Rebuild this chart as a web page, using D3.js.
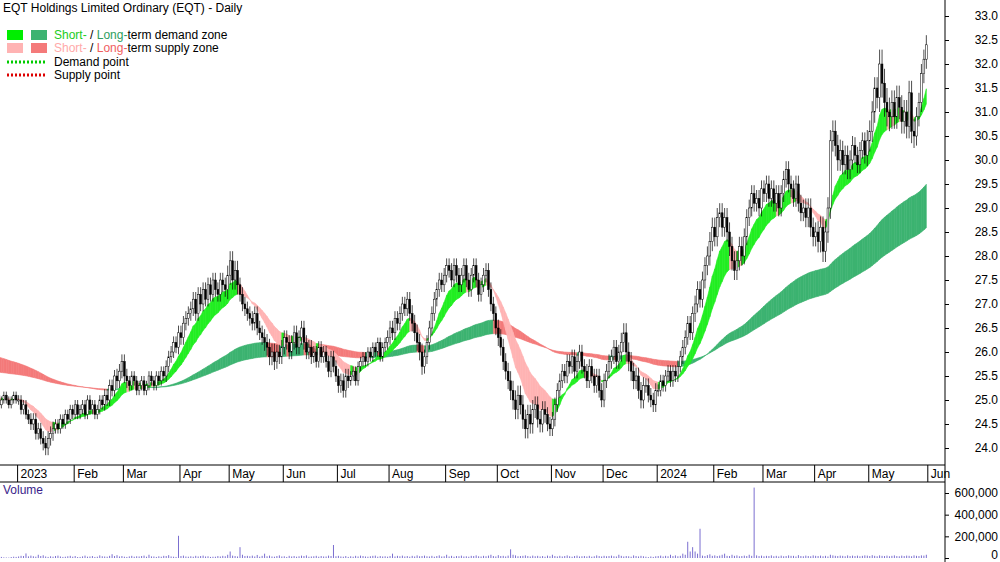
<!DOCTYPE html><html><head><meta charset="utf-8"><script src="https://d3js.org/d3.v7.min.js"></script>
<style>body{margin:0;background:#fff}svg{font-family:Arial,"Liberation Sans",sans-serif}</style></head><body><svg id="c" width="1000" height="562"></svg>
<script>
// Daily closes, one row per week (Mon-Fri), starting week of 19 Dec 2022
const closeRows=[
"25.0 25.1 24.9 25.0 25.1","25.0 24.9 25.0 25.1 25.0","25.0 24.8 24.9 24.7 24.6","24.5 24.6 24.3 24.4 24.2","24.1 24.0 24.2 24.3 24.4",
"24.5 24.4 24.6 24.5 24.7","24.6 24.8 24.7 24.9 24.7","24.8 24.9 24.7 25.0 24.8","24.9 24.7 24.8 25.0 24.9","25.1 25.0 25.3 25.2 25.5",
"25.4 25.6 25.8 25.5 25.4","25.3 25.5 25.4 25.2 25.3","25.4 25.2 25.3 25.5 25.4","25.3 25.5 25.4 25.6 25.5","25.7 25.9 26.0 26.2 26.1",
"26.4 26.3 26.6 26.7 26.8","26.9 27.1 26.8 27.2 27.0","27.3 27.1 27.4 27.2 27.5","27.3 27.2 27.5 27.4 27.3","27.6 27.9 27.5 27.7 27.4",
"27.2 27.0 26.9 26.8 26.7","26.6 26.8 26.5 26.4 26.3","26.2 26.1 25.9 26.0 25.8","26.0 25.9 26.1 26.3 26.2","26.0 26.2 26.4 26.1 26.3",
"26.5 26.2 26.0 26.1 25.9","26.0 25.8 26.1 25.9 26.0","25.8 25.6 25.9 25.7 25.5","25.3 25.4 25.2 25.5 25.4","25.5 25.6 25.4 25.7 25.8",
"25.9 25.8 26.0 25.9 26.1","26.0 26.2 25.9 26.1 26.2","26.3 26.5 26.4 26.7 26.6","26.8 27.0 26.9 27.1 26.8","26.6 26.4 26.2 26.0 25.7",
"25.9 26.2 26.5 26.8 27.1","27.3 27.5 27.4 27.6 27.8","27.7 27.5 27.8 27.6 27.4","27.6 27.8 27.5 27.3 27.6","27.8 27.5 27.2 27.4 27.6",
"27.7 27.3 27.0 26.8 26.5","26.3 26.1 25.8 25.6 25.4","25.2 25.0 24.8 25.1 24.9","24.6 24.4 24.7 24.5 24.8","24.9 24.6 24.5 24.8 24.7",
"24.5 24.4 24.6 24.9 25.2","25.4 25.6 25.5 25.8 25.7","25.9 25.6 25.8 26.0 25.7","25.6 25.4 25.7 25.5 25.3","25.5 25.2 25.0 25.4 25.6",
"25.8 25.9 26.1 25.8 26.0","26.2 26.4 26.0 25.8 25.6","25.4 25.5 25.2 25.0 25.3","25.3 25.1 25.0 24.9 25.2","25.2 25.4 25.3 25.5 25.6",
"25.4 25.6 25.5 25.7 25.9","26.1 26.3 26.6 26.4 26.8","27.0 27.3 27.1 27.5 27.8","28.0 28.3 28.6 28.4 28.8","28.9 28.6 28.8 28.5 28.2",
"27.9 27.7 27.9 28.2 28.0","28.4 28.8 29.0 29.3 29.1","29.2 29.0 29.4 29.3 29.5","29.2 29.4 29.1 29.3 29.0","29.3 29.6 29.8 29.5 29.4",
"29.2 29.5 29.1 28.9 29.0","28.8 29.0 28.6 28.4 28.5","28.3 28.6 28.1 28.5 29.0","30.4 30.6 30.3 30.0 30.2","29.9 30.1 29.8 30.0 30.3",
"30.1 29.9 30.2 30.4 30.1","30.4 30.6 31.0 31.5 31.3","32.0 31.6 31.2 31.0 30.9","31.2 30.9 31.3 31.1 30.8","31.0 30.7 31.4 30.6 30.5",
"30.9 31.2 31.8 32.1 32.4"];
// typical wick length per week
const wickRows=[0.15,0.15,0.2,0.25,0.3,0.2,0.2,0.2,0.2,0.25,0.3,0.2,0.2,0.2,0.25,0.3,0.3,0.3,0.3,0.4,0.3,0.3,0.35,0.3,0.3,0.3,0.25,0.25,0.3,0.2,0.2,0.2,0.3,0.3,0.35,0.3,0.3,0.3,0.3,0.3,0.3,0.35,0.4,0.4,0.35,0.3,0.3,0.3,0.3,0.3,0.3,0.4,0.35,0.3,0.25,0.25,0.3,0.35,0.4,0.4,0.4,0.35,0.35,0.35,0.35,0.35,0.4,0.45,0.45,0.4,0.35,0.45,0.6,0.5,0.5,0.4];
// volume in thousands, one row per week
const volRows=[
"12 8 15 10 6","5 4 9 12 10","14 20 18 42 15","22 16 12 30 18","25 14 10 16 12","18 22 14 10 12","16 20 12 18 9","10 15 22 12 14","18 10 12 24 16","14 12 20 35 18",
"26 14 18 12 10","15 20 12 16 14","18 22 12 30 15","14 10 16 12 20","18 26 14 12 10","205 18 22 14 12","16 12 20 14 18","22 14 16 10 12","12 18 14 20 16","30 60 22 18 14",
"100 30 18 20 16","22 14 28 12 20","40 16 22 14 12","18 24 14 16 10","20 14 18 12 16","22 18 24 12 14","16 20 12 18 14","14 22 18 120 16","20 14 12 18 10","16 12 20 14 22",
"18 14 12 16 20","22 12 18 14 16","12 18 40 14 20","16 22 14 18 12","20 14 24 16 18","22 16 14 20 12","18 24 14 16 30","14 20 12 18 16","22 14 16 12 20","18 24 16 14 20",
"16 22 30 18 14","26 18 20 14 22","80 30 24 16 18","20 24 18 14 22","16 20 14 18 12","22 16 30 18 14","20 14 18 24 16","12 18 22 14 16","18 14 20 12 16","24 18 14 20 16",
"18 22 16 14 30","20 14 18 16 12","24 18 14 20 16","12 8 14 10 16","18 22 14 20 16","30 18 24 16 20","40 30 150 60 100","60 40 270 22 18","26 34 20 24 18","22 30 40 20 18",
"30 20 24 16 18","22 18 30 20 650","24 18 22 16 20","18 24 16 20 14","22 16 18 24 20","20 14 26 18 16","22 18 16 24 20","18 22 16 20 14","30 24 20 18 22","20 16 24 18 22",
"18 22 16 20 24","22 18 26 20 16","24 20 18 22 16","20 24 18 16 22","18 22 20 16 24","20 18 24 22 30"];
const priceTicks=[24.0,24.5,25.0,25.5,26.0,26.5,27.0,27.5,28.0,28.5,29.0,29.5,30.0,30.5,31.0,31.5,32.0,32.5,33.0];
const volTicks=[0,200000,400000,600000];
const monthLabels=["2023","Feb","Mar","Apr","May","Jun","Jul","Aug","Sep","Oct","Nov","Dec","2024","Feb","Mar","Apr","May","Jun"];
const monthStartIdx=[10,33,53,76,96,118,140,161,184,205,227,248,270,293,313,334,356,380];
const emaSeed=[25.0,25.05,25.95,25.6]; // short fast, short slow, long fast, long slow starting levels

const close=closeRows.join(" ").split(" ").map(Number);
const vol=volRows.join(" ").split(" ").map(v=>+v*1000);
const N=close.length;
const bars=close.map((c,i)=>{const o=i?close[i-1]:c-0.05;const w=wickRows[Math.floor(i/5)];
 return{i,o,c,h:Math.max(o,c)+w*0.5,l:Math.min(o,c)-w*0.5,v:vol[i]};});
function ema(n,seed){let e=seed;return close.map(c=>(e=e+(c-e)*2/(n+1)));}
const s1=ema(10,emaSeed[0]),s2=ema(21,emaSeed[1]),l1=ema(100,emaSeed[2]),l2=ema(170,emaSeed[3]);

const svg=d3.select("#c");
const x=d3.scaleLinear().domain([0,N]).range([-6,-6+2.46*N]);
const y=d3.scaleLinear().domain([24,33]).range([448,16]);
const yv=d3.scaleLinear().domain([0,600000]).range([558,493]);

function band(a,b,up,down){
 for(let i=0;i<N-1;i++){const rising=(a[i+1]+b[i+1])>(a[i]+b[i]);
  const p=[[x(i),y(a[i])],[x(i+1),y(a[i+1])],[x(i+1),y(b[i+1])],[x(i),y(b[i])]];
  svg.append("path").attr("d",d3.line()(p)+"Z").attr("fill",rising?up:down).attr("stroke",rising?up:down).attr("stroke-width",0.6);}
}
band(l1,l2,"#3cb371","#f47a7a");
band(s1,s2,"#22ee22","#ffb3b3");

// candles
const cw=1.8;
const g=svg.append("g");
bars.forEach(b=>{const cx=x(b.i);
 g.append("line").attr("x1",cx).attr("x2",cx).attr("y1",y(b.h)).attr("y2",y(b.l)).attr("stroke","#000").attr("stroke-width",0.7);
 const top=y(Math.max(b.o,b.c)),bot=y(Math.min(b.o,b.c));
 g.append("rect").attr("x",cx-cw/2).attr("y",top).attr("width",cw).attr("height",Math.max(1,bot-top))
  .attr("fill",b.c>=b.o?"#fff":"#000").attr("stroke","#000").attr("stroke-width",0.5);});

// axes / frame
svg.append("line").attr("x1",0).attr("x2",945).attr("y1",465).attr("y2",465).attr("stroke","#000");
svg.append("line").attr("x1",0).attr("x2",945).attr("y1",482).attr("y2",482).attr("stroke","#000");
svg.append("line").attr("x1",945).attr("x2",945).attr("y1",0).attr("y2",562).attr("stroke","#000");
const ya=svg.append("g").attr("transform","translate(945,0)").call(d3.axisRight(y).tickValues(priceTicks).tickFormat(d3.format(".1f")).tickSize(4));
ya.select(".domain").remove();ya.selectAll("text").attr("x",53).attr("text-anchor","end").attr("font-size",12).attr("font-family","Arial,Liberation Sans");
const va=svg.append("g").attr("transform","translate(945,0)").call(d3.axisRight(yv).tickValues(volTicks).tickFormat(d3.format(",")).tickSize(4));
va.select(".domain").remove();va.selectAll("text").attr("x",53).attr("text-anchor","end").attr("font-size",12).attr("font-family","Arial,Liberation Sans")
 .attr("dy",d=>d===0?"0":"0.32em");
monthStartIdx.forEach((idx,k)=>{const xx=x(idx)-1;
 svg.append("line").attr("x1",xx).attr("x2",xx).attr("y1",465).attr("y2",482).attr("stroke","#000");
 svg.append("text").attr("x",xx+3).attr("y",478).attr("font-size",12).text(monthLabels[k]);});

// volume
svg.selectAll(".vb").data(bars).enter().append("line").attr("x1",d=>x(d.i)).attr("x2",d=>x(d.i))
 .attr("y1",yv(0)).attr("y2",d=>yv(d.v)).attr("stroke","#7b6fd0").attr("stroke-width",1);
svg.append("text").attr("x",3).attr("y",494).attr("font-size",12).attr("fill","#3a1d8a").text("Volume");

// title & legend
svg.append("text").attr("x",3).attr("y",12).attr("font-size",12).text("EQT Holdings Limited Ordinary (EQT) - Daily");
const L=[[["#00ee00","#3cb371"],[["Short-","#22cc22"],[" / ","#000"],["Long-","#2e9e5e"],["term demand zone","#000"]]],
 [["#ffb3b3","#f47a7a"],[["Short-","#ffaaaa"],[" / ","#000"],["Long-","#f06060"],["term supply zone","#000"]]]];
L.forEach((r,k)=>{const yy=30+k*13;
 svg.append("rect").attr("x",7).attr("y",yy).attr("width",16).attr("height",10).attr("fill",r[0][0]);
 svg.append("rect").attr("x",31).attr("y",yy).attr("width",16).attr("height",10).attr("fill",r[0][1]);
 const t=svg.append("text").attr("x",54).attr("y",yy+9).attr("font-size",12);
 r[1].forEach(s=>t.append("tspan").attr("fill",s[1]).text(s[0]));});
[["#00cc00","Demand point"],["#dd0000","Supply point"]].forEach((r,k)=>{const yy=62+k*13;
 svg.append("line").attr("x1",7).attr("x2",47).attr("y1",yy).attr("y2",yy).attr("stroke",r[0]).attr("stroke-width",3).attr("stroke-dasharray","2,2");
 svg.append("text").attr("x",54).attr("y",yy+4).attr("font-size",12).text(r[1]);});
</script></body></html>
